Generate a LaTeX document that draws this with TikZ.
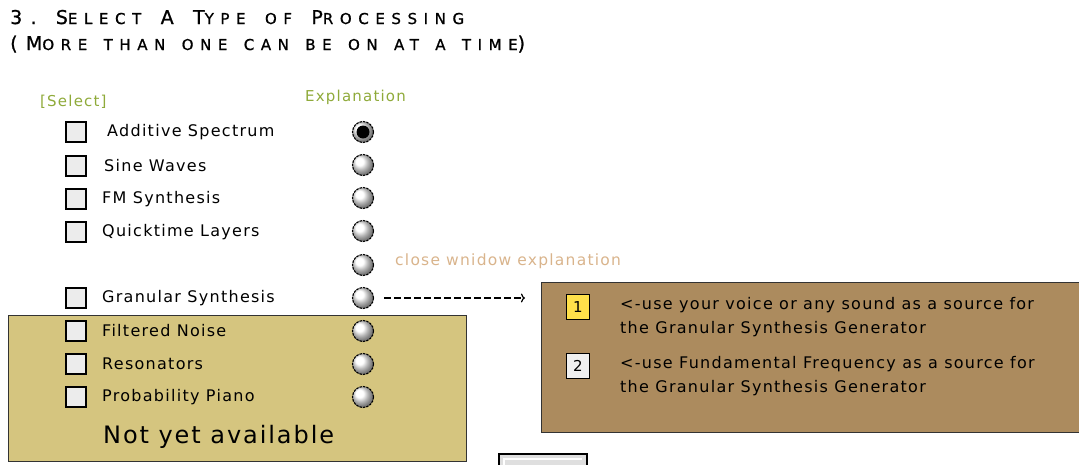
\documentclass[tikz,border=0pt]{standalone}
\usepackage{fontspec}
\setmainfont{DejaVu Sans}
\newfontfamily\headfont[LetterSpace=44,FakeBold=1]{DejaVu Sans}
\newfontfamily\uifont[LetterSpace=8]{DejaVu Sans}
\usetikzlibrary{positioning,shadings,arrows.meta}

\definecolor{selgreen}{HTML}{8FAA3A}
\definecolor{closetan}{HTML}{D9B48C}
\definecolor{olivebox}{HTML}{D5C57F}
\definecolor{brownbox}{HTML}{AC8B5E}
\definecolor{badgeyel}{HTML}{FFE04A}

\newcommand\smc[1]{{\fontsize{15}{16}\selectfont #1}}
\newcommand\gap{\hspace{5pt} }

\begin{document}
\begin{tikzpicture}[x=1pt,y=-1pt,>={To[length=4pt,width=9pt]},
                    lbl/.style={inner sep=0pt, anchor=west, font=\uifont\fontsize{16}{18}\selectfont},
                    chk/.style={draw=black, line width=1.4pt, fill=gray!15, minimum size=20pt, inner sep=0pt},
                    radio/.style={circle, draw=black, line width=1.1pt, dash pattern=on 2.5pt off 1pt,
                                  ball color=white, minimum size=21pt, inner sep=0pt},
                    badge/.style={draw=black, line width=1.2pt, minimum width=23pt, minimum height=25pt,
                                  inner sep=0pt, font=\uifont\fontsize{15}{16}\selectfont},
                    info/.style={inner sep=0pt, anchor=west, align=left,
                                 font=\uifont\fontsize{16}{24}\selectfont}]
  \useasboundingbox (0,0) rectangle (1079,464);

  % heading
  \node[inner sep=0pt, anchor=base west, font=\headfont\fontsize{19}{20}\selectfont] (head1) at (10,24)
        {3. S\smc{ELECT}\gap A\gap T\smc{YPE}\gap\smc{OF}\gap P\smc{ROCESSING}};
  \node[inner sep=0pt, anchor=base west, font=\headfont\fontsize{19}{20}\selectfont] (head2) at (10,50)
        {(M\smc{ORE\gap THAN\gap ONE\gap CAN\gap BE\gap ON\gap AT\gap A\gap TIME})};

  \node[inner sep=0pt, anchor=base west, text=selgreen, font=\uifont\fontsize{15}{17}\selectfont] (sel) at (40,106) {[Select]};
  \node[inner sep=0pt, anchor=base west, text=selgreen, font=\uifont\fontsize{15}{17}\selectfont] (expl) at (305,101) {Explanation};

  % boxes
  \node[draw=black!80, line width=1.3pt, fill=olivebox, anchor=north west,
        minimum width=458pt, minimum height=146pt, inner sep=0pt] (later) at (8,315) {};
  \node[draw=black!80, line width=1.3pt, fill=brownbox, anchor=north west,
        minimum width=560pt, minimum height=150pt, inner sep=0pt] (gran) at (541,282) {};

  % select rows
  \foreach \n/\y/\x/\txt in {1/132/107/Additive Spectrum, 2/166/104/Sine Waves, 3/199/102/FM Synthesis,
                             4/232/102/Quicktime Layers, 6/298/102/Granular Synthesis, 7/331/102/Filtered Noise,
                             8/364/102/Resonators, 9/397/102/Probability Piano}{
    \node[chk] (c\n) at (76,\y) {};
    \node[lbl] (t\n) at (\x,\y) {\txt};
  }
  \foreach \n/\y in {1/132,2/165,3/198,4/231,5/265,6/298,7/331,8/364,9/397}{
    \node[radio] (r\n) at (363,\y) {};
  }
  \fill[black] (r1) circle (6.5pt);

  \node[lbl, text=closetan, font=\uifont\fontsize{15.5}{17}\selectfont] (close) at (395,261) {close wnidow explanation};
  \draw[->, line width=1.2pt, dash pattern=on 7pt off 3pt, shorten <=10pt, shorten >=16pt]
        (r6.east) -- (r6.east -| gran.west);

  \node[lbl, font=\uifont\fontsize{24}{26}\selectfont] (nya) at (103,437) {Not yet available};

  % granular sources
  \node[badge, fill=badgeyel] (b1) at (578,307) {1};
  \node[badge, fill=gray!12] (b2) at (578,366) {2};
  \node[info] (s1) at (620,317) {<-use your voice or any sound as a source for\\the Granular Synthesis Generator};
  \node[info] (s2) at (620,376) {<-use Fundamental Frequency as a source for\\the Granular Synthesis Generator};

  % button peeking in at the bottom
  \draw[line width=2pt, fill=gray!25] (499,470) -- (499,454) -- (587,454) -- (587,470);
  \draw[white, line width=2pt] (504,470) -- (504,459) -- (582,459);
\end{tikzpicture}
\end{document}
